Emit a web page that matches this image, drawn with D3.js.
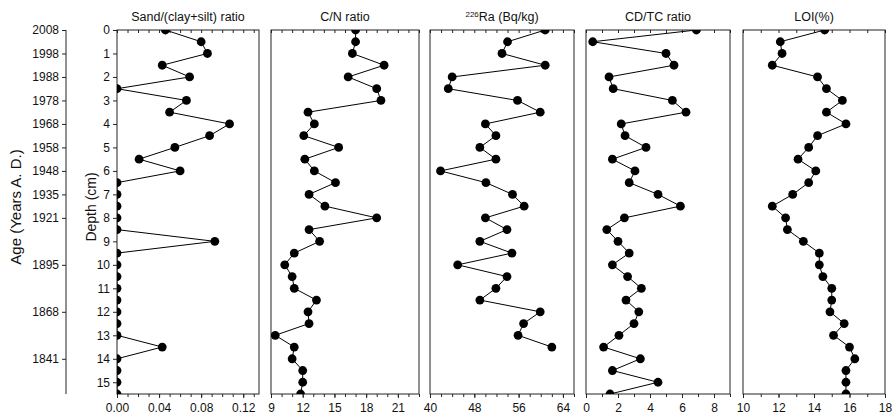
<!DOCTYPE html>
<html><head><meta charset="utf-8">
<script src="https://cdn.jsdelivr.net/npm/d3@7"></script>
<style>body{margin:0;background:#fff}svg{display:block}text{font-family:"Liberation Sans",Arial,sans-serif;fill:#111}</style>
</head><body>
<svg id="c" width="892" height="420"></svg>
<script>
const depths = [0,0.5,1,1.5,2,2.5,3,3.5,4,4.5,5,5.5,6,6.5,7,7.5,8,8.5,9,9.5,10,10.5,11,11.5,12,12.5,13,13.5,14,14.5,15,15.5];
const sand = [0.046,0.080,0.086,0.043,0.069,0,0.066,0.050,0.107,0.088,0.055,0.021,0.060,0,0,0,0,0,0.093,0,0,0,0,0,0,0,0,0.043,0,0,0,0];
const cn = [17.0,17.0,16.7,19.7,16.3,19.0,19.4,12.5,13.1,12.1,15.4,12.2,13.1,15.1,12.6,14.1,19.0,12.6,13.6,11.2,10.3,11.0,11.2,13.3,12.5,12.6,9.4,11.2,11.0,12.0,12.0,11.8];
const ra = [60.8,54.0,53.0,60.8,44.0,43.3,55.8,59.9,50.0,51.9,49.0,51.9,41.9,50.1,54.9,57.0,50.0,53.9,49.0,54.8,45.0,53.9,51.9,49.0,59.9,56.9,55.9,62.0];
const cdtc = [6.9,0.42,5.0,5.5,1.44,1.7,5.4,6.25,2.2,2.44,3.75,1.65,3.06,2.7,4.5,5.9,2.4,1.3,2.0,2.7,1.65,2.6,3.46,2.5,3.3,3.0,2.06,1.1,3.4,1.65,4.5,1.5];
const loi = [14.6,12.1,12.2,11.65,14.2,14.7,15.6,14.7,15.8,14.2,13.7,13.1,14.1,13.7,12.8,11.65,12.4,12.5,13.4,14.3,14.3,14.5,15.0,15.0,14.9,15.7,15.1,16.0,16.3,15.8,15.8,15.8];

const depthTicks = d3.range(0,16);
const ageLabels = ["2008","1998","1988","1978","1968","1958","1948","1935","1921","1895","1868","1841"];
const ageDepths = [0,1,2,3,4,5,6,7,8,10,12,14];

const panels = [
  {title:"Sand/(clay+silt) ratio", vals:sand, domain:[0,0.135], major:[0,0.04,0.08,0.12], minor:0.01, fmt:d3.format(".2f"), x0:117, x1:259},
  {title:"C/N ratio", vals:cn, domain:[9,23], major:[9,12,15,18,21], minor:1, fmt:d3.format("d"), x0:271, x1:419},
  {title:"Ra (Bq/kg)", sup:"226", vals:ra, domain:[40,66], major:[40,48,56,64], minor:2, fmt:d3.format("d"), x0:430, x1:574},
  {title:"CD/TC ratio", vals:cdtc, domain:[0,9], major:[0,2,4,6,8], minor:1, fmt:d3.format("d"), x0:586, x1:730},
  {title:"LOI(%)", vals:loi, domain:[10,18], major:[10,12,14,16,18], minor:1, fmt:d3.format("d"), x0:743, x1:885}
];

const yTop = 30, yBot = 394;
const svg = d3.select("#c");
const y = d3.scaleLinear().domain([0,15.5]).range([yTop,yBot]);
const stroke = "#222";

const dAxis = d3.axisLeft(y).tickValues(depthTicks).tickSize(4).tickPadding(3);
const dg = svg.append("g").attr("transform","translate(117,0)").call(dAxis);
dg.select(".domain").remove();
dg.selectAll("line").attr("stroke",stroke);
dg.selectAll("text").style("font-size","12px");

const aAxis = d3.axisLeft(y).tickValues(ageDepths).tickFormat((d,i)=>ageLabels[i]).tickSize(4).tickPadding(3).tickSizeOuter(0);
const ag = svg.append("g").attr("transform","translate(66,0)").call(aAxis);
ag.select(".domain").attr("stroke",stroke).attr("d",`M0,${y(0)}V${yBot}`);
ag.selectAll("line").attr("stroke",stroke);
ag.selectAll("text").style("font-size","12px");

svg.append("text").attr("transform",`translate(21,${207}) rotate(-90)`).attr("text-anchor","middle").style("font-size","15px").text("Age (Years A. D.)");
svg.append("text").attr("transform",`translate(96,${207}) rotate(-90)`).attr("text-anchor","middle").style("font-size","14px").text("Depth (cm)");

panels.forEach((p,i)=>{
  const x = d3.scaleLinear().domain(p.domain).range([p.x0,p.x1]);
  const g = svg.append("g");
  const cid = "clip"+i;
  svg.append("clipPath").attr("id",cid).append("rect").attr("x",p.x0).attr("y",yTop).attr("width",p.x1-p.x0).attr("height",yBot-yTop);
  const minors = d3.range(p.domain[0], p.domain[1]+1e-9, p.minor);
  const bAxis = d3.axisBottom(x).tickValues(p.major).tickFormat(p.fmt).tickSize(4).tickPadding(5).tickSizeOuter(0);
  const bg = g.append("g").attr("transform",`translate(0,${yBot})`).call(bAxis);
  bg.select(".domain").remove();
  bg.selectAll("line").attr("stroke",stroke);
  bg.selectAll("text").style("font-size","12px");
  const bm = d3.axisBottom(x).tickValues(minors).tickFormat("").tickSize(3).tickSizeOuter(0);
  const bmg = g.append("g").attr("transform",`translate(0,${yBot})`).call(bm);
  bmg.select(".domain").remove(); bmg.selectAll("line").attr("stroke",stroke);
  const tm = d3.axisBottom(x).tickValues(minors).tickFormat("").tickSize(3).tickSizeOuter(0);
  const tg = g.append("g").attr("transform",`translate(0,${yTop})`).call(tm);
  tg.select(".domain").remove(); tg.selectAll("line").attr("stroke",stroke);
  g.append("rect").attr("x",p.x0).attr("y",yTop).attr("width",p.x1-p.x0).attr("height",yBot-yTop)
    .attr("fill","none").attr("stroke",stroke).attr("stroke-width",1);
  const pts = p.vals.map((v,j)=>({v, d:depths[j]}));
  const dg2 = g.append("g").attr("clip-path",`url(#${cid})`);
  dg2.append("path").datum(pts).attr("fill","none").attr("stroke","#000").attr("stroke-width",1)
    .attr("d", d3.line().x(d=>x(d.v)).y(d=>y(d.d)));
  dg2.selectAll("circle").data(pts).join("circle").attr("cx",d=>x(d.v)).attr("cy",d=>y(d.d)).attr("r",4.4).attr("fill","#000");
  const t = svg.append("text").attr("x",(p.x0+p.x1)/2).attr("y",yTop-9).attr("text-anchor","middle").style("font-size","12.5px");
  if(p.sup){ t.append("tspan").attr("dy","-4").style("font-size","8px").text(p.sup); t.append("tspan").attr("dy","4").text(p.title); }
  else t.text(p.title);
});
</script>
</body></html>
